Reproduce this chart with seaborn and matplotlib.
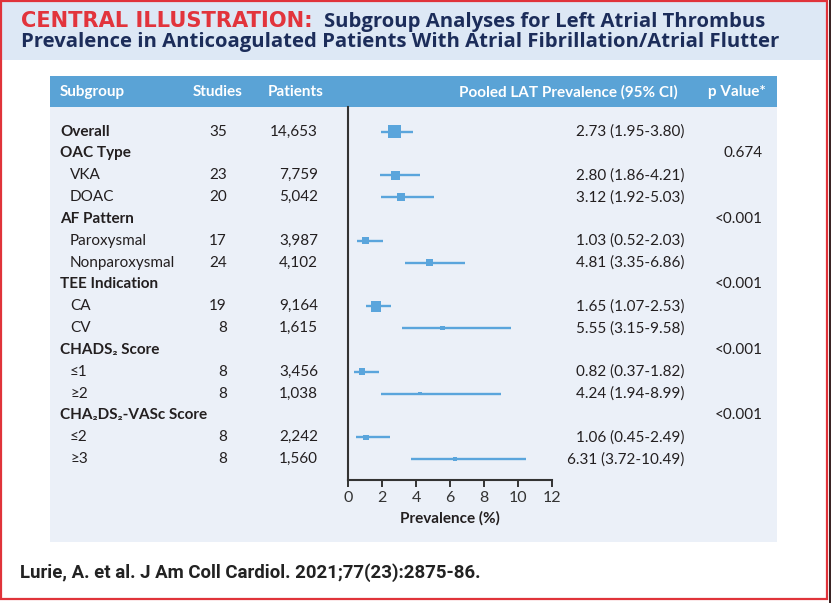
import numpy as np
import pandas as pd
import matplotlib
matplotlib.use("Agg")
import matplotlib.pyplot as plt
import seaborn as sns
from matplotlib.patches import Rectangle
from matplotlib import transforms

nan = np.nan

# ---------------- data ----------------
row_labels = ["Overall", "OAC Type", "VKA", "DOAC", "AF Pattern", "Paroxysmal",
              "Nonparoxysmal", "TEE Indication", "CA", "CV", "CHADS\u2082 Score",
              "\u22641", "\u22652", "CHA\u2082DS\u2082-VASc Score", "\u22642", "\u22653"]
row_kind = ["group", "group", "sub", "sub", "group", "sub", "sub", "group",
            "sub", "sub", "group", "sub", "sub", "group", "sub", "sub"]
studies = [35, None, 23, 20, None, 17, 24, None, 19, 8, None, 8, 8, None, 8, 8]
patients = [14653, None, 7759, 5042, None, 3987, 4102, None, 9164, 1615, None,
            3456, 1038, None, 2242, 1560]
estimate = [2.73, nan, 2.80, 3.12, nan, 1.03, 4.81, nan, 1.65, 5.55, nan,
            0.82, 4.24, nan, 1.06, 6.31]
ci_low = [1.95, nan, 1.86, 1.92, nan, 0.52, 3.35, nan, 1.07, 3.15, nan,
          0.37, 1.94, nan, 0.45, 3.72]
ci_high = [3.80, nan, 4.21, 5.03, nan, 2.03, 6.86, nan, 2.53, 9.58, nan,
           1.82, 8.99, nan, 2.49, 10.49]
p_values = [None, "0.674", None, None, "<0.001", None, None, "<0.001", None, None,
            "<0.001", None, None, "<0.001", None, None]
box_weight_px = [13, 0, 9, 8, 0, 7, 7, 0, 10.5, 4.3, 0, 6.7, 3.7, 0, 5.3, 4.3]
x_ticks = [0, 2, 4, 6, 8, 10, 12]
headers = ["Subgroup", "Studies", "Patients", "Pooled LAT Prevalence (95% CI)", "p Value*"]
title_red = "CENTRAL ILLUSTRATION:"
title_line1 = "Subgroup Analyses for Left Atrial Thrombus"
title_line2 = "Prevalence in Anticoagulated Patients With Atrial Fibrillation/Atrial Flutter"
citation = "Lurie, A. et al. J Am Coll Cardiol. 2021;77(23):2875-86."

df = pd.DataFrame({"label": row_labels, "kind": row_kind, "est": estimate,
                   "lo": ci_low, "hi": ci_high, "box": box_weight_px})
df["row"] = np.arange(len(df))
pts = df.dropna(subset=["est"])

# ---------------- style ----------------
sns.set_theme(style="white")
plt.rcParams["font.family"] = ["Lato", "DejaVu Sans"]

W, H = 831, 603
BLUE = "#5aa5dc"
TXT = "#231f20"
fig = plt.figure(figsize=(W / 100, H / 100), dpi=100)
fig.patch.set_facecolor("white")

bg = fig.add_axes([0, 0, 1, 1])
bg.set_xlim(0, W)
bg.set_ylim(H, 0)
bg.axis("off")

bg.add_patch(Rectangle((2, 2), 824, 58, color="#dde8f5", lw=0))
bg.add_patch(Rectangle((50, 76), 727, 466, color="#ebf0f8", lw=0))
bg.add_patch(Rectangle((50, 76), 727, 31, color="#5aa3d6", lw=0))
bg.add_patch(Rectangle((1, 1), 826, 598, fill=False, edgecolor="#e0333a", lw=1.6))
bg.add_patch(Rectangle((828.5, 0), 3, H, color="#3a2424", lw=0))

# ---------------- forest axes ----------------
ax = fig.add_axes([348 / W, 1 - 480 / H, (552 - 348) / W, (480 - 107) / H])
ax.set_facecolor("none")
ax.hlines(pts["row"], pts["lo"], pts["hi"], color=BLUE, lw=1.7, zorder=2)
sizes = (pts["box"] * 0.72) ** 2
sns.scatterplot(data=pts, x="est", y="row", marker="s", s=sizes, color=BLUE,
                linewidth=0, ax=ax, legend=False, zorder=3)
ax.set_xlim(0, 12)
ax.set_ylim(15.96, -1.13)
ax.set_yticks([])
ax.set_ylabel("")
ax.set_xticks(x_ticks)
ax.set_xticklabels([str(t) for t in x_ticks])
for s in ["top", "right"]:
    ax.spines[s].set_visible(False)
for s in ["left", "bottom"]:
    ax.spines[s].set_color("#333333")
    ax.spines[s].set_linewidth(1.5)
ax.tick_params(axis="x", length=5, width=1.4, color="#333333", labelsize=11.5,
               pad=3, labelcolor="#333333", bottom=True)
ax.set_xlabel("Prevalence (%)", fontsize=11, fontweight="bold", color=TXT, labelpad=4)

# ---------------- table text ----------------
tr = transforms.blended_transform_factory(bg.transData, ax.transData)
FS = 11
for i, r in df.iterrows():
    grp = r["kind"] == "group"
    ax.text(60 if grp else 70, i, r["label"], transform=tr, ha="left", va="center",
            fontsize=FS, fontweight="bold" if grp else "normal", color=TXT)
    if studies[i] is not None:
        ax.text(227, i, str(studies[i]), transform=tr, ha="right", va="center",
                fontsize=FS, color=TXT)
    if patients[i] is not None:
        ax.text(318, i, f"{patients[i]:,}", transform=tr, ha="right", va="center",
                fontsize=FS, color=TXT)
    if not np.isnan(estimate[i]):
        ax.text(684, i, f"{estimate[i]:.2f} ({ci_low[i]:.2f}-{ci_high[i]:.2f})",
                transform=tr, ha="right", va="center", fontsize=FS, color=TXT)
    if p_values[i] is not None:
        ax.text(763, i, p_values[i], transform=tr, ha="right", va="center",
                fontsize=FS, color=TXT)

hy = 92
bg.text(60, hy, headers[0], ha="left", va="center", fontsize=FS, fontweight="bold", color="white")
bg.text(243, hy, headers[1], ha="right", va="center", fontsize=FS, fontweight="bold", color="white")
bg.text(268, hy, headers[2], ha="left", va="center", fontsize=FS, fontweight="bold", color="white")
bg.text(678, hy, headers[3], ha="right", va="center", fontsize=FS, fontweight="bold", color="white")
bg.text(766, hy, headers[4], ha="right", va="center", fontsize=FS, fontweight="bold", color="white")

# ---------------- title & citation ----------------
TFONT = ["Open Sans", "DejaVu Sans"]
renderer = fig.canvas.get_renderer()


def fit(t, target):
    w = t.get_window_extent(renderer).width
    t.set_fontsize(t.get_fontsize() * target / w)


t2 = bg.text(21, 46.5, title_line2, ha="left", va="baseline", fontsize=13,
             fontweight="bold", color="#1c2d5a", family=TFONT)
fit(t2, 748)
TFS = t2.get_fontsize()
t_red = bg.text(21, 27, title_red, ha="left", va="baseline", fontsize=TFS * 1.04,
                fontweight="bold", color="#e2343c", family=["DejaVu Sans"])
x_end = t_red.get_window_extent(renderer).x1
bg.text(x_end + 11, 27, title_line1, ha="left", va="baseline", fontsize=TFS,
        fontweight="bold", color="#1c2d5a", family=TFONT)

c = bg.text(20, 578, citation, ha="left", va="baseline", fontsize=13,
            fontweight="bold", color="#222222", family=["Roboto", "DejaVu Sans"])
fit(c, 460)

fig.savefig("out.png", dpi=100, facecolor="white")
